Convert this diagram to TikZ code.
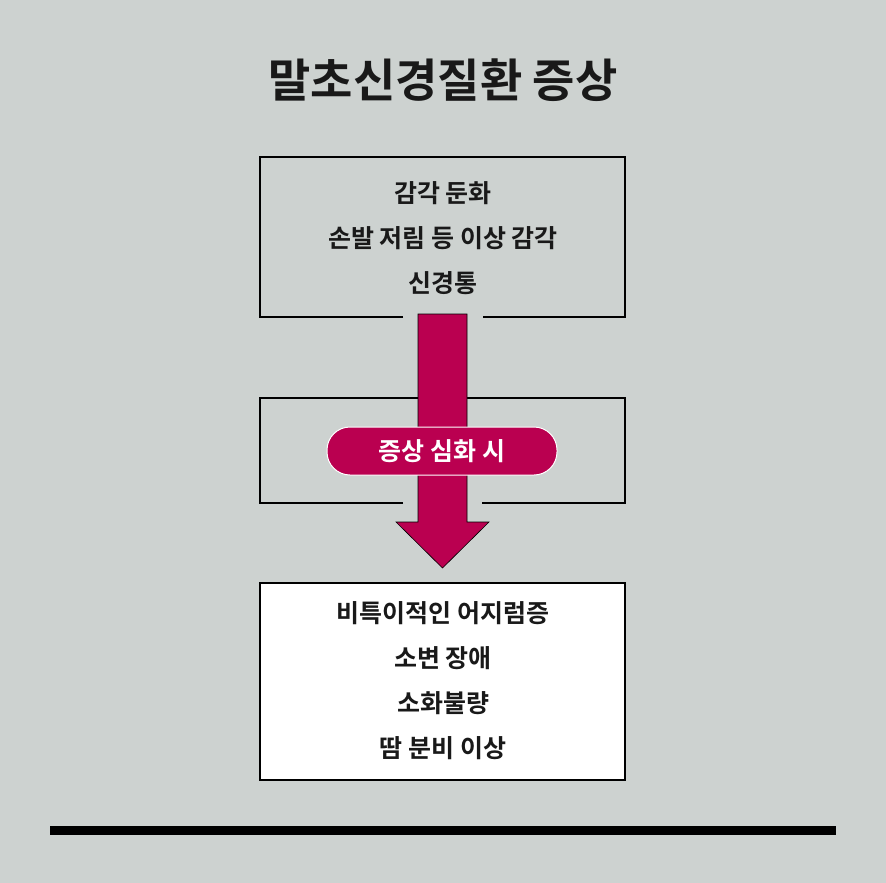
\documentclass[tikz,border=0pt]{standalone}
\usepackage{fontspec}
\newfontfamily\kr{Noto Sans CJK KR}
\newfontfamily\krb{Noto Sans CJK KR Bold}
\definecolor{bg}{HTML}{CDD2D0}
\definecolor{crim}{HTML}{BA0050}
\begin{document}
\begin{tikzpicture}[x=1pt,y=-1pt,
  box/.style={draw=black,line width=1.2pt},
  txt/.style={font=\krb\fontsize{25}{45}\selectfont,align=center,text=black!90}]
\fill[bg] (0,0) rectangle (886,883);
\useasboundingbox (0,0) rectangle (886,883);
\node[font=\krb\fontsize{46}{50}\selectfont,text=black!90] (title) at (443,80) {말초신경질환 증상};
% box1
\fill[bg] (260,157) rectangle (625,317);
\draw[box] (403,317) -- (260,317) -- (260,157) -- (625,157) -- (625,317) -- (483,317);
\node[txt] (t1) at (443,238) {감각 둔화\\손발 저림 등 이상 감각\\신경통};
% box2
\draw[box] (403,503) -- (260,503) -- (260,398) -- (625,398) -- (625,503) -- (482,503);
% box3
\draw[box,fill=white] (260,583) rectangle (625,780);
\node[txt] (t3) at (443,681) {비특이적인 어지럼증\\소변 장애\\소화불량\\땀 분비 이상};
% arrow
\draw[fill=crim,draw=black,line width=0.6pt] (418,314) -- (467,314) -- (467,522) -- (489,522) -- (442.5,568) -- (396,522) -- (418,522) -- cycle;
\node[fill=crim,draw=white,line width=1pt,rounded corners=23pt,minimum width=230pt,minimum height=48pt,font=\krb\fontsize{25}{30}\selectfont,text=white] (pill) at (442,451) {증상 심화 시};
\draw[line width=9pt] (50,830) -- (836,830);
\end{tikzpicture}
\end{document}
